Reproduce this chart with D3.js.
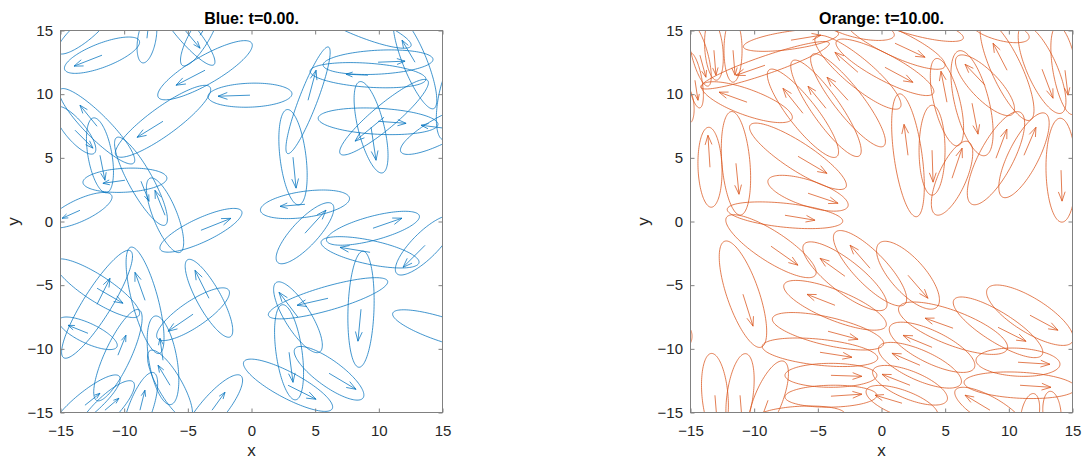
<!DOCTYPE html>
<html><head><meta charset="utf-8">
<script src="https://cdn.jsdelivr.net/npm/d3@7"></script>
<style>
body{margin:0;background:#fff}
text{font-family:"Liberation Sans",Arial,Helvetica,sans-serif}
</style>
</head><body>
<svg id="chart" width="1084" height="460"></svg>
<script>
// ---------- data ----------
const tickValues = [-15, -10, -5, 0, 5, 10, 15];
const titles = ["Blue: t=0.00.", "Orange: t=10.00."];
const axisLabels = ["x", "y"];

// Blue panel (t = 0): ellipse centre, semi-axes, orientation (deg), velocity arrow
const blueX = [-11.74,-3.65,-0.12,-6.95,4.44,3.26,4.20,9.94,9.15,9.39,9.94,10.41,15.20,12.84,8.52,15.59,-3.97,4.20,9.54,9.31,13.63,8.60,6.01,3.65,2.95,6.09,2.87,15.20,-3.34,-4.59,-8.36,-12.13,-12.13,-12.84,-11.51,-3.10,-12.13,-13.86,-11.90,-9.94,-13.47,-6.79,-8.68,-13.08,-8.21,-5.22,-4.04,-13.08,-6.95,-6.40,-10.49,-8.76];
const blueY = [13.06,11.88,9.92,7.87,9.52,5.05,1.35,12.51,11.49,7.40,7.87,8.19,7.32,12.51,15.41,9.52,-0.69,-0.92,-0.53,-2.42,-1.87,-6.89,-6.03,-7.52,-10.27,-11.92,-12.86,-8.54,-6.03,-7.28,-6.19,-6.50,-5.24,-8.78,-14.82,-14.82,7.48,7.17,5.20,3.24,0.88,0.49,3.16,15.02,14.39,15.02,14.63,-14.43,-10.90,-12.86,-10.50,-14.82];
const blueA = [3.14,4.24,3.30,4.56,4.48,3.77,3.53,4.32,4.56,3.69,4.71,4.48,3.93,3.93,4.32,3.14,3.53,3.14,3.77,3.93,3.14,4.56,4.87,3.22,3.77,3.30,3.93,4.32,3.46,3.38,4.32,4.95,3.93,2.51,3.14,3.53,4.08,2.36,2.98,3.30,2.75,3.14,3.93,2.75,1.96,3.53,2.75,3.53,3.53,3.14,3.93,3.14];
const blueB = [0.94,1.10,0.94,1.10,0.71,1.02,1.02,0.94,0.94,1.02,1.02,0.94,1.02,0.94,0.86,0.94,0.94,1.02,0.94,0.94,1.02,1.02,0.94,1.02,1.02,1.02,1.02,0.94,0.94,1.02,1.02,1.10,1.02,0.79,0.94,1.02,0.94,0.79,0.94,0.94,0.86,0.94,0.94,0.79,0.71,0.79,0.79,0.94,1.10,0.94,1.02,0.94];
const blueAng = [21,30,2,36,69,97,8,3,-4,104,-3,40,28,112,-22,80,25,47,15,-12,45,88,16,122,98,-36,-28,-18,119,34,105,58,-33,-25,45,50,-45,-50,100,3,25,112,119,40,80,-50,60,40,100,120,65,70];
const blueU = [-2.20,-2.28,-2.51,-2.04,0.63,0.24,-1.96,2.12,-1.73,0.39,2.20,-2.28,-1.88,-1.02,-1.96,0,2.36,1.65,2.28,-2.36,-1.73,-0.24,-2.43,-1.49,0.31,2.12,2.20,1.96,-1.10,-1.96,-0.79,1.02,2.04,-1.57,1.10,1.02,-1.34,1.41,0.39,-1.73,-1.41,-0.79,0.63,-1.18,0.16,1.18,0.79,1.18,-0.24,-0.94,0.63,0.39];
const blueV = [-0.86,-1.18,-0.08,-1.26,2.36,-2.43,-0.16,0.08,0.08,-2.59,-0.16,-1.88,0.24,1.73,0.79,-1.96,0.94,1.81,0.79,0.39,-1.73,-2.51,-0.55,1.96,-2.36,-1.26,-1.10,0.39,2.20,-1.34,2.20,2.04,-1.18,0.63,0.94,1.41,1.65,-1.41,-1.96,-0.24,-0.63,1.96,-1.57,1.18,1.41,-1.41,1.18,0.94,1.73,1.57,1.57,1.57];

// Orange panel (t = 10)
const orangeX = [-14.26,-13.16,-11.66,-14.65,-13.47,-11.43,-6.56,-5.77,-7.58,-6.17,-4.36,-2.63,-1.85,1.06,0.27,2.63,5.14,7.11,8.13,9.31,9.86,12.61,14.41,2.08,3.97,5.54,8.99,11.19,14.10,-0.90,2.08,-8.68,-10.88,-2.87,-3.65,-4.20,-4.83,-3.97,-3.97,-6.40,-13.08,-11.11,-8.91,5.62,3.97,3.02,2.24,1.61,8.52,9.15,11.66,10.72,10.88,11.66,13.39,-9.15,-10.56,-7.11,-1.69,-15.35,-15.20];
const orangeY = [13.06,13.45,13.45,11.09,4.26,4.57,5.12,2.22,0.49,8.50,8.89,9.52,11.72,14.00,12.11,15.41,9.37,9.29,10.70,15.02,11.88,11.96,11.88,5.20,5.60,3.40,4.97,5.20,4.03,-3.67,-4.22,-1.94,-5.71,-4.30,-6.58,-8.62,-10.27,-12.08,-13.72,-15.30,-13.65,-13.65,-14.04,-8.38,-9.88,-11.29,-12.86,-14.27,-14.82,-8.31,-7.36,-11.05,-12.86,-15.22,-15.06,12.27,9.37,14.24,15.18,-9.01,9.13];
const orangeA = [2.51,2.36,2.51,2.20,3.14,4.08,4.48,3.30,4.56,4.32,4.56,4.56,4.32,4.32,4.32,3.93,3.53,4.24,3.14,2.36,4.32,3.77,3.53,4.87,3.53,3.14,4.08,3.69,4.08,3.93,3.38,4.16,4.40,4.08,4.32,4.48,4.56,3.61,3.61,3.53,3.30,3.30,3.30,4.56,3.69,3.53,3.14,2.98,3.14,4.08,3.93,3.30,4.40,1.73,1.73,5.34,3.77,3.77,2.75,0.79,1.41];
const orangeB = [0.63,0.71,0.71,0.55,0.94,1.10,1.10,1.02,0.94,1.10,1.10,1.10,1.10,1.02,1.02,0.79,1.02,1.34,1.10,0.79,1.18,1.18,0.94,1.10,1.02,1.10,1.34,1.18,1.18,1.26,1.34,1.18,1.26,1.26,1.18,1.10,1.02,0.94,0.86,0.79,1.02,1.02,1.10,1.34,1.26,1.18,1.10,1.02,1.02,1.18,1.34,1.10,1.02,0.71,0.71,0.71,1.02,0.71,0.79,0.47,0.47];
const orangeAng = [105,95,90,100,92,95,-33,-18,-6,128,125,128,140,-25,-28,-15,104,104,134,-15,115,114,100,98,90,66,62,63,91,134,-48,-33,109,142,-22,-13,-6,0,1,3,95,82,68,-21,-26,-24,-22,-20,-30,-32,-32,-3,-3,80,95,19,-20,8,-12,90,95];
const orangeU = [0.47,0.16,0.16,0.24,-0.16,0.24,2.28,2.36,2.36,-1.57,-1.41,-1.65,-1.81,2.36,2.20,1.96,-0.47,0.47,-1.57,0,-1.10,0.86,0.24,-0.31,0.08,0.79,0.86,0.94,0.08,-1.57,1.57,2.12,0.79,-1.96,-2.20,2.36,2.51,2.43,2.43,2.36,0.16,0.16,-0.63,-2.20,-2.28,-2.20,-2.20,-2.12,-1.96,2.20,2.20,2.51,2.43,0,0,-2.28,-2.20,2.36,0,-0.79,-0.79];
const orangeV = [-1.73,-1.96,-1.96,-1.57,2.51,-2.43,-1.34,-0.79,-0.39,1.96,1.73,1.81,1.57,-1.10,-1.18,0.63,2.43,-2.43,1.65,1.57,2.12,-2.28,-1.96,2.43,-2.51,2.36,2.28,2.20,-2.43,1.81,-1.81,-1.49,-2.51,1.41,0.86,-0.63,-0.39,-0.08,0.16,0,-1.96,-1.96,-1.73,0.79,0.94,0.94,0.86,0.63,1.18,-1.10,-1.18,-0.16,-0.16,-1.57,-1.57,-0.79,0.79,0.39,1.57,0,0];

// ---------- drawing ----------
const svg = d3.select("#chart");
const plotW = 382, plotTop = 30.5, plotBottom = 412.5;

function panel(idx, left, color, X, Y, A, B, ANG, U, V) {
  const x = d3.scaleLinear().domain([-15, 15]).range([left, left + plotW]);
  const y = d3.scaleLinear().domain([-15, 15]).range([plotBottom, plotTop]);
  const g = svg.append("g");

  const clipId = "clip" + idx;
  svg.append("defs").append("clipPath").attr("id", clipId)
    .append("rect").attr("x", left).attr("y", plotTop)
    .attr("width", plotW).attr("height", plotBottom - plotTop);

  const marks = g.append("g").attr("clip-path", `url(#${clipId})`);
  const items = X.map((_, i) => ({cx: X[i], cy: Y[i], a: A[i], b: B[i], th: ANG[i] * Math.PI / 180, u: U[i], v: V[i]}));
  const line = d3.line().x(p => x(p[0])).y(p => y(p[1])).curve(d3.curveLinearClosed);
  const N = 120;
  marks.selectAll("path.ell").data(items).join("path").attr("class", "ell")
    .attr("d", d => {
      const pts = d3.range(N).map(k => {
        const t = 2 * Math.PI * k / N;
        const ex = d.a * Math.cos(t), ey = d.b * Math.sin(t);
        return [d.cx + ex * Math.cos(d.th) - ey * Math.sin(d.th),
                d.cy + ex * Math.sin(d.th) + ey * Math.cos(d.th)];
      });
      return line(pts);
    })
    .attr("fill", "none").attr("stroke", color).attr("stroke-width", 0.75);

  marks.selectAll("path.arr").data(items).join("path").attr("class", "arr")
    .attr("d", d => {
      const x1 = x(d.cx), y1 = y(d.cy), x2 = x(d.cx + d.u), y2 = y(d.cy + d.v);
      const dx = x2 - x1, dy = y2 - y1, L = Math.hypot(dx, dy);
      const h = Math.min(0.32 * L, 10), ang = Math.atan2(dy, dx), phi = 20 * Math.PI / 180;
      const bx1 = x2 - h * Math.cos(ang - phi), by1 = y2 - h * Math.sin(ang - phi);
      const bx2 = x2 - h * Math.cos(ang + phi), by2 = y2 - h * Math.sin(ang + phi);
      return `M${x1},${y1}L${x2},${y2}M${bx1},${by1}L${x2},${y2}L${bx2},${by2}`;
    })
    .attr("fill", "none").attr("stroke", color).attr("stroke-width", 0.75);

  // axes
  const axColor = "#262626";
  const styleAxis = sel => {
    sel.select(".domain").remove();
    sel.selectAll(".tick line").attr("stroke", "#808080");
    sel.selectAll(".tick text").attr("fill", axColor).style("font-size", "15px");
  };
  g.append("g").attr("transform", `translate(0,${plotBottom})`)
    .call(d3.axisBottom(x).tickValues(tickValues).tickSizeInner(-4).tickSizeOuter(0).tickPadding(12.5))
    .call(styleAxis);
  g.append("g").attr("transform", `translate(0,${plotTop})`)
    .call(d3.axisTop(x).tickValues(tickValues).tickSizeInner(-4).tickSizeOuter(0).tickFormat(""))
    .call(styleAxis);
  g.append("g").attr("transform", `translate(${left},0)`)
    .call(d3.axisLeft(y).tickValues(tickValues).tickSizeInner(-4).tickSizeOuter(0).tickPadding(7.5))
    .call(styleAxis);
  g.append("g").attr("transform", `translate(${left + plotW},0)`)
    .call(d3.axisRight(y).tickValues(tickValues).tickSizeInner(-4).tickSizeOuter(0).tickFormat(""))
    .call(styleAxis);

  g.append("rect").attr("x", left).attr("y", plotTop).attr("width", plotW).attr("height", plotBottom - plotTop)
    .attr("fill", "none").attr("stroke", "#808080").attr("stroke-width", 1);

  g.append("text").attr("x", left + plotW / 2).attr("y", 23.5).attr("text-anchor", "middle")
    .style("font-size", "16px").style("font-weight", "bold").attr("fill", "#000").text(titles[idx]);
  g.append("text").attr("x", left + plotW / 2).attr("y", 456).attr("text-anchor", "middle")
    .style("font-size", "17px").attr("fill", axColor).text(axisLabels[0]);
  g.append("text").attr("transform", `translate(${left - 42},${(plotTop + plotBottom) / 2}) rotate(-90)`)
    .attr("text-anchor", "middle").style("font-size", "17px").attr("fill", axColor).text(axisLabels[1]);
}

panel(0, 60.5, "#0072BD", blueX, blueY, blueA, blueB, blueAng, blueU, blueV);
panel(1, 690.5, "#D95319", orangeX, orangeY, orangeA, orangeB, orangeAng, orangeU, orangeV);
</script>
</body></html>
